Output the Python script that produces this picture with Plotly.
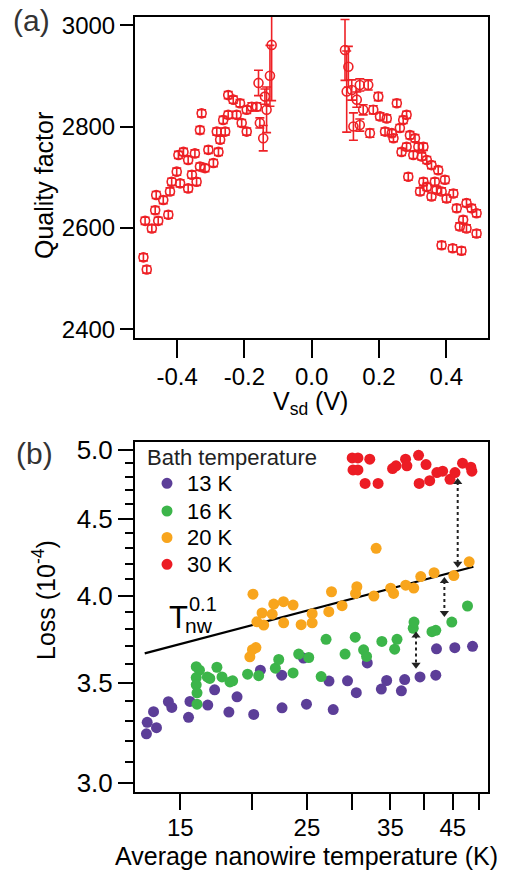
import numpy as np
import plotly.graph_objects as go

# ---------------- Panel (a): quality factor vs Vsd ----------------
vsd = [-0.500, -0.490, -0.495, -0.475, -0.456, -0.462, -0.465, -0.441, -0.426, -0.421,
       -0.416, -0.401, -0.391, -0.396, -0.381, -0.367, -0.367, -0.356, -0.347, -0.342,
       -0.332, -0.327, -0.332, -0.317, -0.307, -0.292, -0.277, -0.282, -0.272, -0.257,
       -0.263, -0.248, -0.248, -0.233, -0.223, -0.213, -0.208, -0.193, -0.193, -0.178,
       -0.163, -0.158, -0.154, -0.144, -0.139, -0.134, -0.124, -0.119,
       0.099, 0.104, 0.109, 0.119, 0.124, 0.134, 0.143, 0.143, 0.153, 0.168,
       0.173, 0.183, 0.198, 0.203, 0.223, 0.218, 0.238, 0.243, 0.253, 0.262,
       0.272, 0.282, 0.267, 0.282, 0.292, 0.302, 0.307, 0.317, 0.327, 0.332,
       0.342, 0.356, 0.376, 0.287, 0.332, 0.322, 0.342, 0.356, 0.366, 0.371,
       0.386, 0.396, 0.401, 0.421, 0.431, 0.460, 0.475, 0.490, 0.450, 0.440,
       0.460, 0.490, 0.386, 0.419, 0.445]
qf = [2542, 2518, 2614, 2599, 2614, 2665, 2635, 2655, 2626, 2672,
      2691, 2711, 2688, 2744, 2750, 2678, 2734, 2705, 2747, 2691,
      2793, 2826, 2721, 2718, 2754, 2728, 2750, 2790, 2774, 2790,
      2813, 2823, 2862, 2853, 2823, 2846, 2807, 2790, 2833, 2839,
      2839, 2886, 2807, 2777, 2859, 2833, 2900, 2961,
      2951, 2869, 2918, 2872, 2800, 2853, 2803, 2882, 2833, 2882,
      2787, 2833, 2859, 2820, 2816, 2790, 2787, 2777, 2846, 2797,
      2813, 2823, 2750, 2760, 2783, 2744, 2777, 2760, 2741, 2760,
      2734, 2724, 2714, 2701, 2691, 2672, 2681, 2662, 2691, 2675,
      2672, 2695, 2658, 2668, 2639, 2649, 2639, 2629, 2616, 2603,
      2599, 2589, 2566, 2560, 2555]
qf_err = [7, 7, 7, 7, 7, 7, 7, 7, 7, 7,
          7, 7, 7, 7, 7, 7, 7, 7, 7, 7,
          7, 7, 7, 7, 7, 7, 7, 7, 7, 7,
          7, 7, 7, 7, 7, 7, 7, 7, 7, 8,
          8, 25, 10, 25, 15, 45, 60, 110,
          60, 80, 40, 20, 27, 15, 12, 12, 10, 10,
          8, 8, 8, 7, 7, 7, 7, 7, 7, 7,
          7, 7, 7, 7, 7, 7, 7, 7, 7, 7,
          7, 7, 7, 7, 7, 7, 7, 7, 7, 7,
          7, 7, 7, 7, 7, 7, 7, 7, 7, 7,
          7, 7, 7, 7, 7]

# ---------------- Panel (b): loss vs nanowire temperature ----------------
t13 = [13.09, 13.13, 13.63, 13.47, 14.30, 14.50, 15.51, 15.60, 16.76, 17.23,
       18.25, 18.86, 20.17, 20.72, 22.58, 22.61, 24.95, 24.65, 27.32, 27.79,
       29.44, 30.50, 31.88, 33.74, 34.47, 36.58, 37.07, 39.43, 42.02, 42.14,
       45.37, 48.73]
loss13 = [3.235, 3.293, 3.266, 3.347, 3.399, 3.369, 3.318, 3.400, 3.381, 3.461,
          3.345, 3.424, 3.333, 3.567, 3.540, 3.367, 3.386, 3.634, 3.508, 3.358,
          3.509, 3.446, 3.607, 3.465, 3.511, 3.456, 3.516, 3.530, 3.540, 3.686,
          3.692, 3.700]

t16 = [16.00, 16.21, 16.00, 16.00, 16.05, 16.05, 16.73, 16.90, 17.39, 17.75,
       18.33, 18.53, 19.68, 20.58, 22.01, 22.31, 23.64, 24.18, 25.18, 26.47,
       27.00, 29.15, 30.37, 31.41, 31.79, 33.81, 35.60, 35.94, 38.37, 38.49,
       41.38, 42.02, 44.82, 47.75]
loss16 = [3.586, 3.567, 3.527, 3.488, 3.445, 3.386, 3.530, 3.522, 3.583, 3.530,
          3.503, 3.509, 3.545, 3.537, 3.578, 3.626, 3.552, 3.656, 3.637, 3.532,
          3.740, 3.656, 3.752, 3.680, 3.643, 3.728, 3.684, 3.740, 3.804, 3.840,
          3.784, 3.792, 3.840, 3.936]

t20 = [20.11, 20.86, 20.43, 21.00, 21.73, 21.87, 22.74, 23.64, 22.76, 24.42,
       25.53, 25.53, 27.30, 27.60, 28.80, 30.57, 30.41, 32.74, 33.04, 35.03,
       35.45, 37.22, 38.45, 39.55, 41.73, 45.19, 48.07, 19.86, 20.07, 20.35]
loss20 = [4.008, 3.894, 3.842, 3.823, 3.887, 3.948, 3.962, 3.942, 3.836, 3.825,
          3.890, 3.836, 3.902, 4.023, 3.938, 4.054, 4.013, 3.997, 4.300, 4.045,
          4.013, 4.064, 4.046, 4.118, 4.142, 4.124, 4.212, 3.641, 3.681, 3.693]

t30 = [30.0, 30.7, 32.2, 30.1, 30.7, 31.6, 33.3, 35.3, 35.8, 37.2, 37.4,
       39.2, 40.4, 39.3, 41.0, 42.2, 43.2, 44.5, 45.4, 46.8, 48.4, 48.6]
loss30 = [4.94, 4.94, 4.93, 4.85, 4.85, 4.75, 4.75, 4.86, 4.88, 4.93, 4.88,
          4.96, 4.89, 4.75, 4.77, 4.83, 4.84, 4.78, 4.83, 4.90, 4.87, 4.84]

fit_t = [13.0, 48.9]
fit_loss = [3.66, 4.18]

arrow_t = [45.9, 43.5, 38.8]
arrow_top = [4.76, 4.09, 3.762]
arrow_bot = [4.20, 3.894, 3.597]

# tick values
a_xticks = [-0.4, -0.2, 0.0, 0.2, 0.4]
a_xticklabels = ["-0.4", "-0.2", "0.0", "0.2", "0.4"]
a_yticks = [2400, 2600, 2800, 3000]
b_xticks_labeled = [15, 25, 35, 45]
b_xticks_unlabeled = [20, 30, 40, 50]
b_yticks = [3.0, 3.5, 4.0, 4.5, 5.0]
b_yticks_minor = [3.1, 3.2, 3.3, 3.4, 3.6, 3.7, 3.8, 3.9, 4.1, 4.2, 4.3, 4.4, 4.6, 4.7, 4.8, 4.9]

series_names = ["13 K", "16 K", "20 K", "30 K"]
series_colors = ["#5C3E98", "#3CB54A", "#F8A51D", "#EC1C24"]
legend_title = "Bath temperature"
red_a = "#EE2126"

W, H = 509, 873
FONT = "Liberation Sans, Arial, sans-serif"


def px(x):
    return x / W


def py(y):
    return 1 - y / H


fig = go.Figure()

# Panel (a)
fig.add_trace(go.Scatter(
    x=vsd, y=qf, mode="markers", xaxis="x", yaxis="y", showlegend=False,
    marker=dict(symbol="circle-open", size=9, color=red_a, line=dict(width=1.6, color=red_a)),
    error_y=dict(type="data", array=qf_err, visible=True, color=red_a, thickness=1.6, width=4.5),
))

# Panel (b): fit line
fig.add_trace(go.Scatter(
    x=fit_t, y=fit_loss, mode="lines", xaxis="x2", yaxis="y2", showlegend=False,
    line=dict(color="black", width=2.2),
))

# Panel (b): series
for t, l, name, col in zip([t13, t16, t20, t30], [loss13, loss16, loss20, loss30],
                           series_names, series_colors):
    fig.add_trace(go.Scatter(
        x=t, y=l, mode="markers", name=name, xaxis="x2", yaxis="y2", showlegend=False,
        marker=dict(size=11, color=col, line=dict(width=0)),
    ))

# Panel (b): dashed double arrows
for at, top, bot in zip(arrow_t, arrow_top, arrow_bot):
    fig.add_trace(go.Scatter(
        x=[at, at], y=[top, bot], mode="lines", xaxis="x2", yaxis="y2", showlegend=False,
        line=dict(color="#222222", width=2, dash="3px,3px"),
    ))
    fig.add_trace(go.Scatter(
        x=[at, at], y=[top, bot], mode="markers", xaxis="x2", yaxis="y2", showlegend=False,
        marker=dict(symbol=["triangle-up", "triangle-down"], size=8, color="#222222"),
    ))

axis_common = dict(
    showline=True, linecolor="black", linewidth=2, mirror=True,
    showgrid=False, zeroline=False, ticks="outside", tickwidth=2, tickcolor="black",
    automargin=False,
)

fig.update_layout(
    width=W, height=H,
    margin=dict(l=0, r=0, t=0, b=0),
    paper_bgcolor="white", plot_bgcolor="white",
    font=dict(family=FONT, color="black"),
    showlegend=False,
    xaxis=dict(domain=[px(135), px(487.7)], range=[-0.525, 0.523], anchor="y",
               tickvals=a_xticks, ticktext=a_xticklabels, ticklabelstandoff=-2,
               ticklen=18, tickfont=dict(family=FONT, size=24, color="black"), **axis_common),
    yaxis=dict(domain=[py(338), py(17)], range=[2383, 3016], anchor="x",
               tickvals=a_yticks, ticktext=[str(v) for v in a_yticks],
               ticklen=13, tickfont=dict(family=FONT, size=24, color="black"), **axis_common),
    xaxis2=dict(domain=[px(135), px(487.7)], type="log",
                range=[np.log10(12.5), np.log10(51.8)], anchor="y2",
                tickvals=b_xticks_labeled, ticktext=[str(v) for v in b_xticks_labeled],
                ticklabelstandoff=-3,
                ticklen=16, tickfont=dict(family=FONT, size=24, color="black"),
                minor=dict(tickmode="array", tickvals=b_xticks_unlabeled, ticklen=16, tickwidth=2,
                           tickcolor="black", ticks="outside", showgrid=False),
                **axis_common),
    yaxis2=dict(domain=[py(792), py(442)], type="log",
                range=[np.log10(2.959), np.log10(5.062)], anchor="x2",
                tickvals=b_yticks, ticktext=["%.1f" % v for v in b_yticks],
                ticklen=15, tickfont=dict(family=FONT, size=26, color="black"),
                minor=dict(tickmode="array", tickvals=b_yticks_minor, ticklen=8, tickwidth=2,
                           tickcolor="black", ticks="outside", showgrid=False),
                **axis_common),
)

ann = [
    dict(text="(a)", x=px(32), y=py(20), font=dict(size=30, color="#333333")),
    dict(text="(b)", x=px(34), y=py(453), font=dict(size=30, color="#333333")),
    dict(text="Quality factor", x=px(44), y=py(186), textangle=-90, font=dict(size=25)),
    dict(text="V<sub>sd</sub> (V)", x=px(310), y=py(403), font=dict(size=25)),
    dict(text="Loss (10<sup>-4</sup>)", x=px(44), y=py(600), textangle=-90, font=dict(size=25)),
    dict(text="Average nanowire temperature (K)", x=px(306.7), y=py(856), font=dict(size=25)),
    dict(text="T", x=px(178), y=py(617.8), font=dict(size=31)),
    dict(text="nw", x=px(199), y=py(625.6), font=dict(size=21)),
    dict(text="0.1", x=px(202.5), y=py(604.3), font=dict(size=20)),
]
for a in ann:
    a.update(xref="paper", yref="paper", showarrow=False, xanchor="center", yanchor="middle")

# Manual legend (title + entries)
ann.append(dict(text=legend_title, x=px(145), y=py(457), xref="paper", yref="paper",
                showarrow=False, xanchor="left", yanchor="middle",
                font=dict(size=22, color="#222222")))
legend_rows = [483.3, 511.0, 537.5, 564.3]
shapes = []
for name, col, ry in zip(series_names, series_colors, legend_rows):
    ann.append(dict(text=name, x=px(185), y=py(ry), xref="paper", yref="paper",
                    showarrow=False, xanchor="left", yanchor="middle",
                    font=dict(size=22, color="black")))
    shapes.append(dict(type="circle", xref="paper", yref="paper",
                       xsizemode="pixel", ysizemode="pixel",
                       xanchor=px(167), yanchor=py(ry),
                       x0=-5.5, x1=5.5, y0=-5.5, y1=5.5,
                       fillcolor=col, line=dict(width=0)))

for a in ann:
    f = a.get("font", {})
    a["font"] = dict(family=FONT, size=f.get("size", 24), color=f.get("color", "black"))

fig.update_layout(annotations=ann, shapes=shapes)

fig.write_html("out.html", config={"displayModeBar": False},
               post_script="document.body.style.margin='0';")
